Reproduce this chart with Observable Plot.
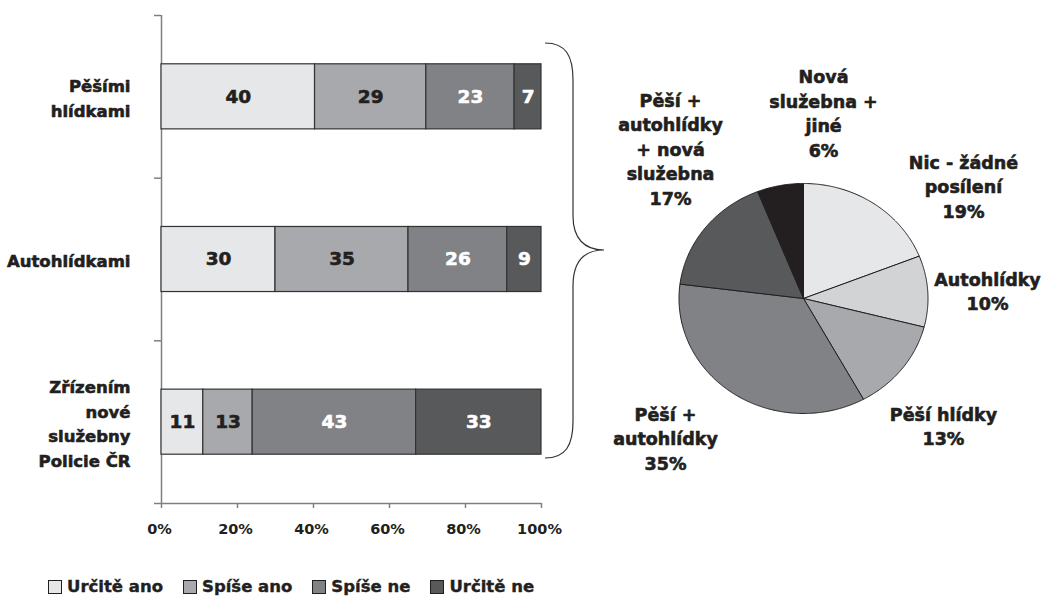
<!DOCTYPE html>
<html>
<head>
<meta charset="utf-8">
<script src="https://cdn.jsdelivr.net/npm/d3@7"></script>
<script src="https://cdn.jsdelivr.net/npm/@observablehq/plot@0.6"></script>
<style>
  html, body { margin: 0; padding: 0; background: #fff; }
  #root { position: relative; width: 1042px; height: 596px; overflow: hidden; font-family: "DejaVu Sans", sans-serif; color: #231f20; }
  #bars { position: absolute; left: 0; top: 0; }
  #pie { position: absolute; left: 560px; top: 0; }
  #brace { position: absolute; left: 0; top: 0; pointer-events: none; }
  #legend { position: absolute; left: 48px; top: 576px; height: 22px; display: flex; align-items: center; font-weight: bold; font-size: 16.5px; line-height: 22px; white-space: nowrap; -webkit-text-stroke: 0.4px #231f20; }
  #legend .item { display: flex; align-items: center; margin-right: 20px; }
  #legend .sw { width: 12px; height: 12px; border: 1px solid #231f20; margin-right: 5px; }
</style>
</head>
<body>
<div id="root">
  <div id="bars"></div>
  <div id="pie"></div>
  <svg id="brace" width="1042" height="596"></svg>
  <div id="legend"></div>
</div>
<script>
// ---- Data ----
const categories = ["Pěšími\nhlídkami", "Autohlídkami", "Zřízením\nnové\nslužebny\nPolicie ČR"];
const series = ["Určitě ano", "Spíše ano", "Spíše ne", "Určitě ne"];
const urciteAno = [40, 30, 11];
const spiseAno = [29, 35, 13];
const spiseNe = [23, 26, 43];
const urciteNe = [7, 9, 33];
const xTicks = [0, 20, 40, 60, 80, 100];

const pieLabels = ["Nic - žádné\nposílení", "Autohlídky", "Pěší hlídky", "Pěší +\nautohlídky", "Pěší +\nautohlídky\n+ nová\nslužebna", "Nová\nslužebna +\njiné"];
const pieValues = [19, 10, 13, 35, 17, 6];

// ---- Styles ----
const barColors = ["#e6e7e8", "#a7a9ac", "#808285", "#58595b"];
const barTextColors = ["#231f20", "#231f20", "#ffffff", "#ffffff"];
const pieColors = ["#e6e7e8", "#d1d3d4", "#a7a9ac", "#808285", "#58595b", "#231f20"];
// label anchor positions in pie unit coordinates (layout)
const pieLabelAnchors = [[1.285, 0.983], [1.478, 0.074], [1.124, -1.10], [-1.108, -1.209], [-1.068, 1.309], [0.161, 1.622]];

const dark = "#231f20";
const axisGray = "#808080";
const heavy = 0.6;

// ---- Bar table (100% stacked) ----
const valueArrays = [urciteAno, spiseAno, spiseNe, urciteNe];
const table = categories.flatMap((c, i) => {
  const vals = valueArrays.map(a => a[i]);
  const total = d3.sum(vals);
  let acc = 0;
  return series.map((s, j) => {
    const x1 = acc / total * 100;
    acc += vals[j];
    return {cat: i, series: s, j, value: vals[j], x1, x2: acc / total * 100};
  });
});

const bars = Plot.plot({
  width: 600,
  height: 545,
  marginLeft: 161,
  marginRight: 59,
  marginTop: 15,
  marginBottom: 42,
  style: {fontFamily: "DejaVu Sans, sans-serif", background: "transparent", color: dark},
  x: {domain: [0, 100], axis: null},
  y: {domain: [3, 0], axis: null},
  color: {type: "identity"},
  marks: [
    Plot.ruleX([0], {x: () => 0, stroke: axisGray, strokeWidth: 1.5}),
    Plot.ruleY([3], {y: () => 3, stroke: axisGray, strokeWidth: 1.5}),
    Plot.axisY({ticks: [0, 1, 2, 3], tickSize: 7, tickFormat: () => "", stroke: axisGray, strokeWidth: 1.5}),
    Plot.axisX({ticks: xTicks, tickSize: 5, tickFormat: () => "", stroke: axisGray, strokeWidth: 1.5}),
    Plot.axisX({ticks: xTicks, tickSize: 0, tickPadding: 20, tickFormat: d => d + "%", fill: dark, fontSize: 14.5, fontWeight: "bold", dx: -2}),
    Plot.rectX(table, {
      x1: "x1", x2: "x2",
      y1: d => d.cat + 0.3, y2: d => d.cat + 0.7,
      fill: d => barColors[d.j],
      stroke: "#333333", strokeWidth: 1.2
    }),
    Plot.text(table, {
      x: d => (d.x1 + d.x2) / 2,
      y: d => d.cat + 0.5,
      text: d => String(d.value),
      fill: d => barTextColors[d.j],
      stroke: d => barTextColors[d.j],
      strokeWidth: heavy,
      fontSize: 18.5, fontWeight: "bold"
    }),
    Plot.text(categories, {
      x: () => 0,
      y: (d, i) => i + 0.5,
      text: d => d,
      textAnchor: "end",
      dx: -31,
      lineHeight: 1.5,
      fill: dark,
      stroke: dark,
      strokeWidth: heavy,
      fontSize: 16.5, fontWeight: "bold"
    })
  ]
});
document.getElementById("bars").appendChild(bars);

// ---- Pie ----
const pieTotal = d3.sum(pieValues);
let cum = 0;
const piePts = [];
pieValues.forEach((v, k) => {
  const a0 = cum / pieTotal * 2 * Math.PI;
  cum += v;
  const a1 = cum / pieTotal * 2 * Math.PI;
  const n = Math.max(2, Math.round((a1 - a0) * 180 / Math.PI * 2));
  piePts.push({k, x: 0, y: 0});
  for (let t = 0; t <= n; t++) {
    const th = a0 + (a1 - a0) * t / n;
    piePts.push({k, x: Math.sin(th), y: Math.cos(th)});
  }
  piePts.push({k, x: 0, y: 0});
});

const pie = Plot.plot({
  width: 482,
  height: 500,
  margin: 0,
  style: {fontFamily: "DejaVu Sans, sans-serif", background: "transparent", color: dark},
  x: {domain: [-1, 1], range: [118.5, 367.5], axis: null},
  y: {domain: [-1, 1], range: [413, 183], axis: null},
  color: {type: "identity"},
  marks: [
    Plot.line(piePts, {x: "x", y: "y", z: "k", fill: d => pieColors[d.k], stroke: dark, strokeWidth: 1, strokeLinejoin: "round"}),
    Plot.text(pieLabels, {
      x: (d, i) => pieLabelAnchors[i][0],
      y: (d, i) => pieLabelAnchors[i][1],
      text: (d, i) => d + "\n" + pieValues[i] + "%",
      lineHeight: 1.4,
      fill: dark,
      stroke: dark,
      strokeWidth: heavy,
      fontSize: 17.5, fontWeight: "bold"
    })
  ]
});
document.getElementById("pie").appendChild(pie);

// ---- Brace (decoration) ----
const brace = d3.select("#brace");
brace.append("path")
  .attr("d", "M545,43 C566,43 573,56 573,80 L573,216 C573,238 584,250 604,250 C584,250 573,262 573,286 L573,421 C573,445 566,458 545,458")
  .attr("fill", "none").attr("stroke", "#333").attr("stroke-width", 1.2);

// ---- Legend ----
const legend = d3.select("#legend");
series.forEach((s, j) => {
  const it = legend.append("div").attr("class", "item");
  it.append("div").attr("class", "sw").style("background", barColors[j]);
  it.append("span").text(s);
});
</script>
</body>
</html>
